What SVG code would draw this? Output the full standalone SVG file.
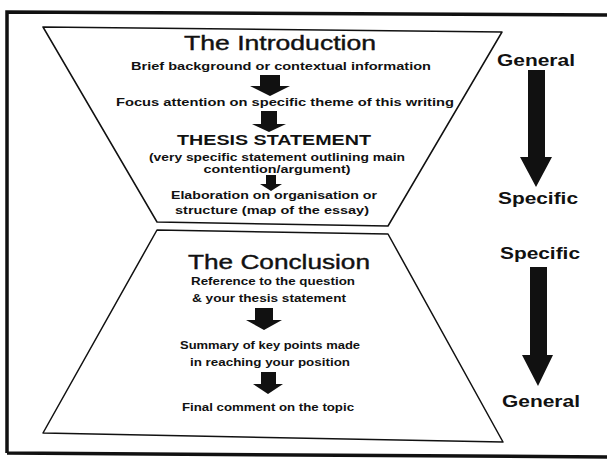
<svg xmlns="http://www.w3.org/2000/svg" width="607" height="462" viewBox="0 0 607 462">
<style>
.frame{fill:none;stroke:#111;stroke-width:3.5}
.trap{fill:#fff;stroke:#111;stroke-width:1.5;stroke-linejoin:round}
.head{font-family:"Liberation Sans",Arial,sans-serif;font-size:20px;fill:#111;stroke:#111;stroke-width:0.4;text-anchor:middle}
.body{font-family:"Liberation Sans",Arial,sans-serif;font-size:11px;font-weight:bold;fill:#111;text-anchor:middle}
.thesis{font-family:"Liberation Sans",Arial,sans-serif;font-size:14px;font-weight:bold;fill:#111;text-anchor:middle}
.side{font-family:"Liberation Sans",Arial,sans-serif;font-size:16px;font-weight:bold;fill:#111;text-anchor:middle}
.arr{fill:#111}
</style>
<rect width="607" height="462" fill="#fff"/>
<path class="frame" d="M7,453 L7,12 L607,15 M7,453 L607,457"/>
<g id="introduction">
<polygon class="trap" points="43,27 502,32 388,226 157,222"/>
<text class="head" x="280" y="50" textLength="192" lengthAdjust="spacingAndGlyphs">The Introduction</text>
<text class="body" x="281" y="70" textLength="300" lengthAdjust="spacingAndGlyphs">Brief background or contextual information</text>
<text class="body" x="285" y="106" textLength="338" lengthAdjust="spacingAndGlyphs">Focus attention on specific theme of this writing</text>
<text class="thesis" x="274" y="145" textLength="194" lengthAdjust="spacingAndGlyphs">THESIS STATEMENT</text>
<text class="body" x="277" y="161" textLength="256" lengthAdjust="spacingAndGlyphs">(very specific statement outlining main</text>
<text class="body" x="277" y="173" textLength="147" lengthAdjust="spacingAndGlyphs">contention/argument)</text>
<text class="body" x="274" y="199" textLength="206" lengthAdjust="spacingAndGlyphs">Elaboration on organisation or</text>
<text class="body" x="272" y="214" textLength="194" lengthAdjust="spacingAndGlyphs">structure (map of the essay)</text>
</g>
<g id="conclusion">
<polygon class="trap" points="157,230 388,234 503,442 43,433"/>
<text class="head" x="279" y="269" textLength="182" lengthAdjust="spacingAndGlyphs">The Conclusion</text>
<text class="body" x="273" y="285" textLength="164" lengthAdjust="spacingAndGlyphs">Reference to the question</text>
<text class="body" x="269" y="302" textLength="154" lengthAdjust="spacingAndGlyphs">&amp; your thesis statement</text>
<text class="body" x="270" y="349" textLength="180" lengthAdjust="spacingAndGlyphs">Summary of key points made</text>
<text class="body" x="270" y="366" textLength="160" lengthAdjust="spacingAndGlyphs">in reaching your position</text>
<text class="body" x="268" y="411" textLength="172" lengthAdjust="spacingAndGlyphs">Final comment on the topic</text>
</g>
<g id="labels">
<text class="side" x="536" y="66" textLength="78" lengthAdjust="spacingAndGlyphs">General</text>
<text class="side" x="538" y="204" textLength="80" lengthAdjust="spacingAndGlyphs">Specific</text>
<text class="side" x="540" y="259" textLength="80" lengthAdjust="spacingAndGlyphs">Specific</text>
<text class="side" x="541" y="407" textLength="78" lengthAdjust="spacingAndGlyphs">General</text>
</g>
<g id="connectors">
<polygon class="arr" points="260,75 280,75 280,86 290,86 270,96 250,86 260,86"/>
<polygon class="arr" points="261,111 277,111 277,124 286,124 269,132 252,124 261,124"/>
<polygon class="arr" points="266,175 276,175 276,184 282,184 271,191 260,184 266,184"/>
<polygon class="arr" points="255,308 273,308 273,320 282,320 264,330 246,320 255,320"/>
<polygon class="arr" points="261,372 276,372 276,384 283,384 268,394 253,384 261,384"/>
<polygon class="arr" points="528,70 545,70 545,157 552,157 536,187 520,157 528,157"/>
<polygon class="arr" points="530,267 547,267 547,355 553,355 538,386 522,355 530,355"/>
</g>
</svg>
